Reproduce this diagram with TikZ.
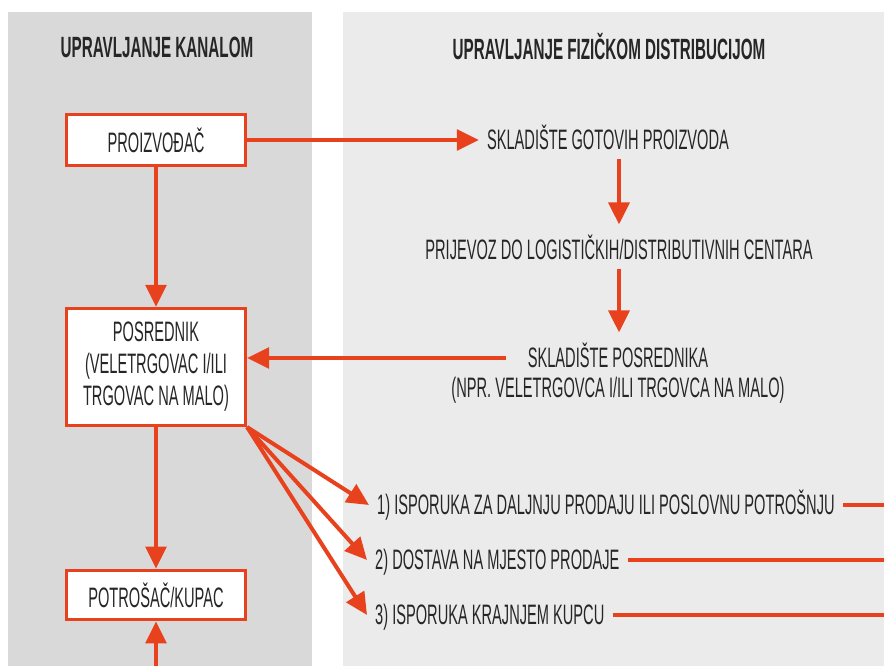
\documentclass[tikz,border=0pt]{standalone}
\usepackage{fontspec}
\setmainfont[FakeStretch=0.52]{Liberation Sans}
\usepackage{xcolor}
\usetikzlibrary{arrows.meta}
\definecolor{kanalgray}{HTML}{D9D9D9}
\definecolor{distgray}{HTML}{EBEBEB}
\definecolor{flowred}{HTML}{E8411E}
\definecolor{textdark}{HTML}{262626}
\tikzset{
  head/.style={font=\fontsize{25}{29}\selectfont\bfseries, text=textdark},
  txt/.style={font=\fontsize{24}{27.3}\selectfont, text=textdark, inner xsep=0.24cm, inner ysep=0.36cm},
  label/.style={txt, text height=17pt, text depth=0pt},
  box/.style={txt, draw=flowred, line width=3pt, fill=white, minimum width=5.36cm, align=center},
  flow/.style={draw=flowred, line width=3.4pt, -{Triangle[length=0.66cm,width=0.62cm]}},
  link/.style={draw=flowred, line width=3.4pt}
}
\begin{document}
\begin{tikzpicture}[x=0.03cm, y=-0.03cm]
            \clip (0,0) rectangle (884,666);
            %Panels
            \fill[white] (0,0) rectangle (884,666);
            \fill[kanalgray] (8,12) rectangle (312,666);
            \fill[distgray] (343,12) rectangle (884,666);

            %Nodes
            \node[head] at (157,47) (headK) {UPRAVLJANJE KANALOM};
            \node[head] at (609,47) (headF) {UPRAVLJANJE FIZIČKOM DISTRIBUCIJOM};
            \node[box, minimum height=1.52cm] at (156,140) (proiz) {PROIZVOĐAČ};
            \node[box, minimum height=3.5cm] at (156,367) (posred) {POSREDNIK\\(VELETRGOVAC I/ILI\\TRGOVAC NA MALO)};
            \node[box, minimum height=1.48cm] at (156,595) (potros) {POTROŠAČ/KUPAC};
            \node[label] at (608,140) (skladG) {SKLADIŠTE GOTOVIH PROIZVODA};
            \node[label] at (619,250) (prijevoz) {PRIJEVOZ DO LOGISTIČKIH/DISTRIBUTIVNIH CENTARA};
            \node[label] at (618,358) (skladP) {SKLADIŠTE POSREDNIKA};
            \node[label] at (618,388) (skladNpr) {(NPR. VELETRGOVCA I/ILI TRGOVCA NA MALO)};
            \node[label, anchor=west] at (369,505) (isp1) {1) ISPORUKA ZA DALJNJU PRODAJU ILI POSLOVNU POTROŠNJU};
            \node[label, anchor=west] at (367,560) (isp2) {2) DOSTAVA NA MJESTO PRODAJE};
            \node[label, anchor=west] at (367,615) (isp3) {3) ISPORUKA KRAJNJEM KUPCU};
            \coordinate (kupacIn) at (156,672);
            \coordinate (edge1) at (890,505);
            \coordinate (edge2) at (890,560);
            \coordinate (edge3) at (890,615);

            %Lines
            \draw[flow] (proiz.east) -- (skladG.west);
            \draw[flow, shorten <=-0.1cm, shorten >=0.1cm] (prijevoz.north |- skladG.south) -- (prijevoz.north);
            \draw[flow, shorten <=-0.1cm, shorten >=0.1cm] (prijevoz.south) -- (prijevoz.south |- skladP.north);
            \draw[flow, shorten <=0.42cm] (skladP.west) -- (skladP.west -| posred.east);
            \draw[flow] (proiz.south) -- (posred.north);
            \draw[flow] (posred.south) -- (potros.north);
            \draw[flow] (kupacIn) -- (potros.south);
            \draw[flow] (posred.south east) -- (isp1.west);
            \draw[flow] (posred.south east) -- (isp2.west);
            \draw[flow] (posred.south east) -- (isp3.west);
            \draw[link] (isp1.east) -- (edge1);
            \draw[link] (isp2.east) -- (edge2);
            \draw[link] (isp3.east) -- (edge3);
        \end{tikzpicture}
\end{document}
